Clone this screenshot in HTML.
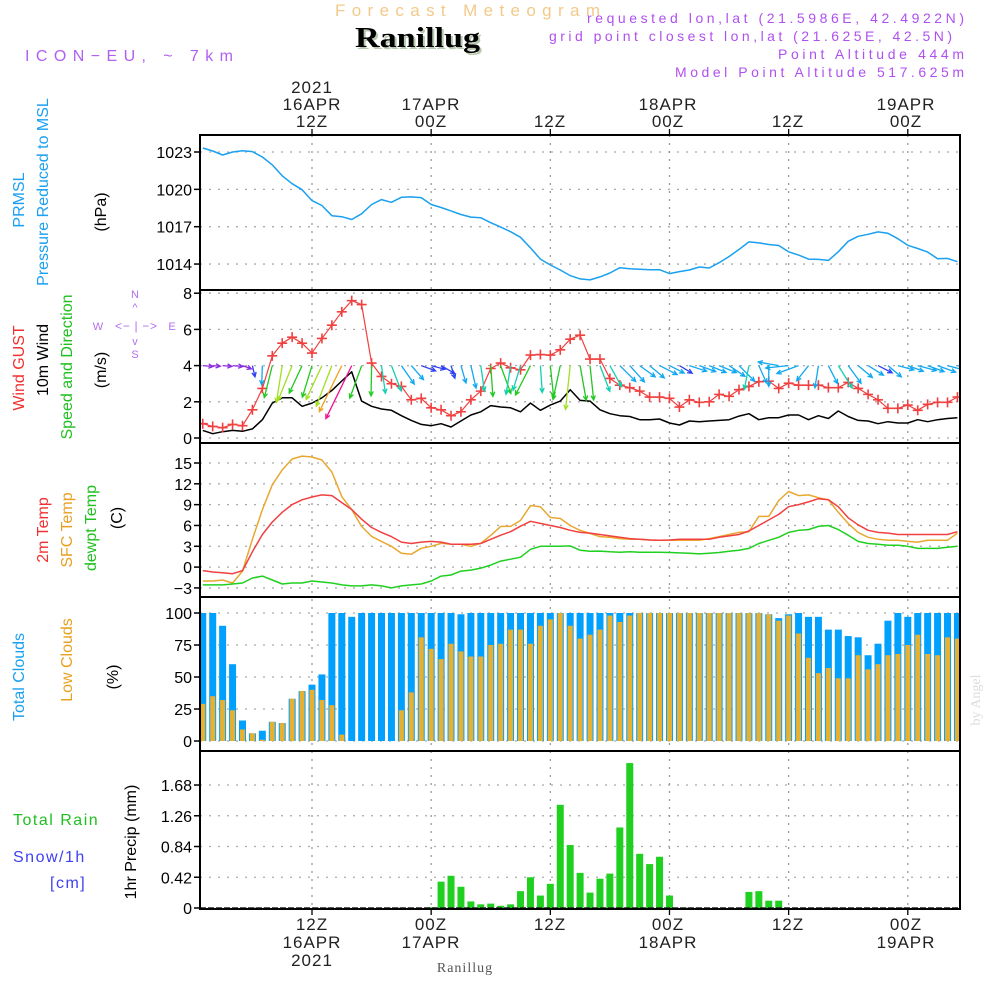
<!DOCTYPE html>
<html><head><meta charset="utf-8"><title>Forecast Meteogram Ranillug</title>
<style>
html,body{margin:0;padding:0;background:#fff;}
svg{display:block;font-family:"Liberation Sans",sans-serif;}
</style></head>
<body>
<svg id="chart" width="1000" height="1000" viewBox="0 0 1000 1000" xmlns="http://www.w3.org/2000/svg">
<rect x="0" y="0" width="1000" height="1000" fill="#fff"/>
<text x="335" y="16" font-size="17" fill="#f3c98a" textLength="265" lengthAdjust="spacing">Forecast Meteogram</text>
<text x="357" y="49" font-size="28" font-weight="bold" font-family="Liberation Serif,serif" fill="#b8c8b0" textLength="125" lengthAdjust="spacingAndGlyphs">Ranillug</text>
<text x="355" y="47" font-size="28" font-weight="bold" font-family="Liberation Serif,serif" fill="#000" textLength="125" lengthAdjust="spacingAndGlyphs">Ranillug</text>
<text x="25" y="61" font-size="16" fill="#b060f0" textLength="208" lengthAdjust="spacing">ICON−EU, ~ 7km</text>
<g font-size="14" fill="#b050f0">
<text x="587" y="23" textLength="377" lengthAdjust="spacing">requested lon,lat (21.5986E, 42.4922N)</text>
<text x="549" y="41" textLength="403" lengthAdjust="spacing">grid point closest lon,lat (21.625E, 42.5N)</text>
<text x="778" y="59" textLength="186" lengthAdjust="spacing">Point Altitude 444m</text>
<text x="675" y="77" textLength="289" lengthAdjust="spacing">Model Point Altitude 517.625m</text>
</g>
<g font-size="17" fill="#222" text-anchor="middle" letter-spacing="1">
<text x="312" y="93">2021</text>
<text x="312" y="110">16APR</text>
<text x="312" y="127">12Z</text>
<text x="431" y="110">17APR</text>
<text x="431" y="127">00Z</text>
<text x="550" y="127">12Z</text>
<text x="668" y="110">18APR</text>
<text x="668" y="127">00Z</text>
<text x="788" y="127">12Z</text>
<text x="906" y="110">19APR</text>
<text x="906" y="127">00Z</text>
</g>
<g font-size="17" fill="#222" text-anchor="middle" letter-spacing="1">
<text x="312" y="930">12Z</text>
<text x="312" y="948">16APR</text>
<text x="312" y="966">2021</text>
<text x="431" y="930">00Z</text>
<text x="431" y="948">17APR</text>
<text x="550" y="930">12Z</text>
<text x="668" y="930">00Z</text>
<text x="668" y="948">18APR</text>
<text x="788" y="930">12Z</text>
<text x="906" y="930">00Z</text>
<text x="906" y="948">19APR</text>
</g>
<text x="465" y="972" font-size="14" font-family="Liberation Serif,serif" fill="#555" text-anchor="middle" letter-spacing="1">Ranillug</text>
<text transform="translate(980,700) rotate(-90)" font-size="14" font-family="Liberation Serif,serif" fill="#ddd" text-anchor="middle">by Angel</text>

<g font-size="16">
<text transform="translate(24,200) rotate(-90)" fill="#1aa0f0" text-anchor="middle">PRMSL</text>
<text transform="translate(48,192) rotate(-90)" fill="#1aa0f0" text-anchor="middle">Pressure Reduced to MSL</text>
<text transform="translate(106,212) rotate(-90)" fill="#000" text-anchor="middle">(hPa)</text>
<text transform="translate(24,368) rotate(-90)" fill="#f03030" text-anchor="middle">Wind GUST</text>
<text transform="translate(48,360) rotate(-90)" fill="#000" text-anchor="middle">10m Wind</text>
<text transform="translate(72,367) rotate(-90)" fill="#20c020" text-anchor="middle">Speed and Direction</text>
<text transform="translate(106,370) rotate(-90)" fill="#000" text-anchor="middle">(m/s)</text>
<text transform="translate(48,530) rotate(-90)" fill="#f03030" text-anchor="middle">2m Temp</text>
<text transform="translate(72,530) rotate(-90)" fill="#e8a020" text-anchor="middle">SFC Temp</text>
<text transform="translate(96,528) rotate(-90)" fill="#20c020" text-anchor="middle">dewpt Temp</text>
<text transform="translate(122,518) rotate(-90)" fill="#000" text-anchor="middle">(C)</text>
<text transform="translate(24,677) rotate(-90)" fill="#1aa0f0" text-anchor="middle">Total Clouds</text>
<text transform="translate(72,660) rotate(-90)" fill="#e8a020" text-anchor="middle">Low Clouds</text>
<text transform="translate(118,677) rotate(-90)" fill="#000" text-anchor="middle">(%)</text>
<text x="13" y="825" fill="#20c020" letter-spacing="1.5">Total  Rain</text>
<text x="13" y="862" fill="#4040f0" letter-spacing="1.5">Snow/1h</text>
<text x="50" y="888" fill="#4040f0" letter-spacing="1.5">[cm]</text>
<text transform="translate(136,842) rotate(-90)" fill="#000" text-anchor="middle">1hr Precip (mm)</text>
</g>
<g font-size="11" fill="#b070f0">
<text x="135" y="298" text-anchor="middle">N</text>
<text x="135" y="358" text-anchor="middle">S</text>
<text x="98" y="330" text-anchor="middle">W</text>
<text x="172" y="330" text-anchor="middle">E</text>
<text x="115" y="330" textLength="42" lengthAdjust="spacing" font-size="12">&lt;− | −&gt;</text>
<text x="135" y="311" text-anchor="middle">^</text>
<text x="135" y="345" text-anchor="middle">v</text>
</g>
<g id="plot"></g>
</svg>
<script>
// ---- data (hour index 1..77 from 16APR 00Z) ----
const hours = Array.from({length:77},(_,i)=>i+1);
const pressure = [1023.32,1023.08,1022.76,1023.0,1023.1,1023.03,1022.6,1021.96,1021.09,1020.45,1019.97,1019.1,1018.7,1017.88,1017.8,1017.58,1018.04,1018.78,1019.18,1018.96,1019.36,1019.39,1019.34,1018.78,1018.54,1018.27,1017.98,1017.77,1017.72,1017.32,1016.97,1016.6,1016.15,1015.3,1014.4,1013.92,1013.52,1013.07,1012.81,1012.73,1012.97,1013.28,1013.71,1013.63,1013.58,1013.55,1013.55,1013.23,1013.39,1013.52,1013.76,1013.68,1014.11,1014.61,1015.17,1015.78,1015.7,1015.57,1015.49,1014.98,1014.72,1014.4,1014.37,1014.29,1014.98,1015.83,1016.23,1016.39,1016.58,1016.47,1016.04,1015.51,1015.25,1014.96,1014.43,1014.45,1014.19];
const gust = [0.79,0.64,0.57,0.75,0.68,1.56,2.74,4.54,5.24,5.57,5.24,4.69,5.5,6.23,6.97,7.59,7.37,4.14,3.4,3.0,2.85,2.11,2.19,1.67,1.56,1.23,1.45,2.11,2.59,3.84,4.14,3.88,3.77,4.58,4.61,4.58,4.87,5.46,5.68,4.36,4.36,3.29,2.92,2.78,2.59,2.26,2.26,2.19,1.71,2.11,1.97,2.0,2.41,2.3,2.67,2.85,3.11,3.14,2.74,3.03,2.92,2.92,2.92,2.78,2.78,3.07,2.74,2.41,2.11,1.64,1.64,1.82,1.53,1.86,1.97,1.97,2.26];
const wind = [0.42,0.24,0.35,0.42,0.37,0.5,1.01,1.93,2.22,2.22,1.75,1.93,2.22,2.63,3.15,3.66,2.04,1.75,1.6,1.53,1.23,0.97,0.75,0.68,0.79,0.61,0.94,1.27,1.45,1.79,1.71,1.67,1.45,1.93,1.53,1.82,2.04,2.67,2.08,2.04,1.56,1.34,1.23,1.19,1.01,1.01,1.05,0.83,0.72,0.94,0.9,0.94,0.97,1.01,1.21,1.34,1.01,1.12,1.12,1.27,1.27,1.01,1.23,1.08,1.49,1.19,0.97,0.94,0.79,0.9,0.83,0.83,1.01,0.9,1.01,1.08,1.12];
const windDir = [5,5,5,5,20,77,92,104,99,112,115,107,115,111,116,116,110,91,82,69,55,49,20,15,30,73,74,77,82,86,70,99,107,117,86,84,102,96,80,84,69,61,45,48,36,40,27,27,31,18,20,22,22,34,45,101,66,90,190,174,160,128,99,63,58,54,40,32,27,40,15,20,15,20,20,15,10];
const temp2m = [-0.5,-0.7,-0.8,-0.95,-0.5,2.2,4.7,6.5,7.9,9.0,9.7,10.1,10.4,10.3,9.3,8.3,6.9,5.7,5.0,4.4,3.6,3.4,3.6,3.7,3.6,3.3,3.3,3.3,3.4,4.0,4.6,5.1,5.9,6.6,6.3,6.0,5.7,5.3,5.0,4.9,4.7,4.5,4.3,4.1,4.0,3.9,3.86,3.9,4.0,4.0,4.0,4.0,4.3,4.5,4.7,5.2,6.0,6.8,7.6,8.7,9.0,9.4,9.86,9.7,8.7,7.1,6.1,5.3,5.0,4.9,4.7,4.7,4.7,4.7,4.7,4.7,5.1];
const tempSfc = [-2.0,-2.0,-1.86,-2.29,-0.57,4.0,8.29,11.86,14.0,15.57,16.0,15.86,15.43,13.71,10.14,8.29,5.86,4.43,3.71,3.0,2.0,1.86,2.71,3.0,3.43,3.29,3.29,3.0,3.43,4.57,5.86,5.86,6.71,8.86,8.71,7.14,7.0,6.0,5.29,4.86,4.4,4.3,4.1,4.0,4.0,3.9,3.86,3.86,3.86,3.86,3.86,4.1,4.4,4.7,5.0,5.1,7.3,7.3,9.6,10.9,10.3,10.4,10.0,9.7,7.9,6.3,5.0,4.3,4.0,3.86,3.86,3.7,3.6,3.86,3.86,3.86,4.9];
const dewpt = [-2.57,-2.57,-2.57,-2.43,-2.29,-1.57,-1.29,-1.86,-2.43,-2.29,-2.29,-2.0,-2.14,-2.29,-2.57,-2.71,-2.71,-2.57,-2.71,-3.0,-2.71,-2.57,-2.43,-2.0,-1.29,-1.14,-0.57,-0.43,-0.14,0.29,0.86,1.14,1.43,2.57,3.0,3.0,3.0,3.05,2.43,2.29,2.3,2.2,2.14,2.2,2.14,2.14,2.14,2.1,2.05,2.0,1.9,2.0,2.1,2.29,2.43,2.7,3.4,3.86,4.3,5.0,5.3,5.4,5.86,6.0,5.4,4.6,3.7,3.4,3.3,3.14,3.14,3.0,2.7,2.7,2.7,2.86,3.0];
const totalClouds = [100,100,90,60,16,6,8,15,14,33,39,44,52,100,100,97,100,100,100,100,100,100,100,100,100,100,99,100,100,100,100,100,100,100,100,100,100,100,100,100,100,100,100,100,100,100,100,100,100,100,100,100,100,100,100,100,100,99,96,99,100,97,97,87,87,82,81,67,76,94,100,97,100,100,100,100,100];
const lowClouds = [29,35,32,24,9,6,1,15,14,33,39,40,32,28,5,0,0,0,0,0,24,38,81,72,64,76,70,66,66,75,76,87,87,76,90,95,100,90,80,83,87,98,93,98,100,100,100,100,100,100,100,100,100,100,100,100,100,99,94,98,84,65,53,57,49,49,67,56,60,67,68,75,83,68,67,81,80];
const rain = [0,0,0,0,0,0,0,0,0,0,0,0,0,0,0,0,0,0,0,0,0,0,0,0.01,0.36,0.44,0.29,0.09,0.05,0.06,0.03,0.05,0.23,0.42,0.17,0.33,1.41,0.86,0.48,0.21,0.40,0.47,1.10,1.98,0.74,0.60,0.70,0.17,0,0,0,0,0,0,0,0.22,0.23,0.10,0.10,0,0,0,0,0,0,0,0,0,0,0,0,0,0,0,0,0,0];
const pressureTicks = [1014,1017,1020,1023];
const windTicks = [0,2,4,6,8];
const tempTicks = [-3,0,3,6,9,12,15];
const cloudTicks = [0,25,50,75,100];
const rainTicks = [0,0.42,0.84,1.26,1.68];
const timeGridHours = [12,24,36,48,60,72];

// ---- axis functions ----
const X0=200, X1=960;
const xH = h => 312 + (h-12)*9.93;
const yP = p => 152 + (1023-p)*12.45;
const yW = v => 438 - v*18.1;
const yT = t => 463 + (15-t)*6.94;
const yC = c => 741 - c*1.28;
const yR = r => 908 - r*73.2;
const panels = [{t:135,b:290,name:'pressure'},{t:290,b:443,name:'wind'},{t:443,b:597,name:'temperature'},{t:597,b:751,name:'clouds'},{t:751,b:909,name:'precip'}];

const NS='http://www.w3.org/2000/svg';
const plot=document.getElementById('plot');
function mk(tag,attrs,parent){const e=document.createElementNS(NS,tag);for(const k in attrs)e.setAttribute(k,attrs[k]);(parent||plot).appendChild(e);return e;}
const clip=mk('clipPath',{id:'pc'});mk('rect',{x:X0,y:135,width:X1-X0,height:774},clip);
const g=mk('g',{'clip-path':'url(#pc)'});



function hgrid(ticks,fy,fmt,name){
  ticks.forEach(v=>{
    const y=fy(v);
    const l=mk('line',{x1:X0,x2:X1,y1:y,y2:y,stroke:'#aaa','stroke-width':1.3,'stroke-dasharray':'2 7'},g);
    
    
    const tk=mk('line',{x1:X0-6,x2:X0,y1:y,y2:y,stroke:'#000','stroke-width':1.5});
    
    
    const t=mk('text',{x:192,y:y+6,'font-size':16,'text-anchor':'end',fill:'#000'});
    t.textContent=fmt(v);
    
    
  });
}
hgrid(pressureTicks,yP,v=>String(v),'pressure');
hgrid(windTicks,yW,v=>String(v),'wind');
hgrid(tempTicks,yT,v=>v<0?'−'+(-v):String(v),'temp');
hgrid(cloudTicks,yC,v=>String(v),'cloud');
hgrid(rainTicks,yR,v=>v===0?'0':v.toFixed(2),'precip');
timeGridHours.forEach(h=>{
  const x=xH(h);
  const l=mk('line',{x1:x,x2:x,y1:135,y2:909,stroke:'#999','stroke-width':1.3,'stroke-dasharray':'2 6'},g);
  
  
  [[129,135],[909,915]].forEach(([a,b])=>{
    const t=mk('line',{x1:x,x2:x,y1:a,y2:b,stroke:'#000','stroke-width':1.3});
    
    
  });
});

hours.forEach((h,i)=>{
  const x=xH(h);
  const b=mk('rect',{x:x-3.5,y:yC(totalClouds[i]),width:7,height:yC(0)-yC(totalClouds[i]),fill:'#00a0ff'},g);
  
  
  const o=mk('rect',{x:x-2.5,y:yC(lowClouds[i]),width:5,height:yC(0)-yC(lowClouds[i]),fill:'#e8b030'},g);
  
  
});
hours.forEach((h,i)=>{
  if(rain[i]<=0)return;
  const x=xH(h);
  const b=mk('rect',{x:x-3.5,y:yR(rain[i]),width:7,height:yR(0)-yR(rain[i]),fill:'#20d020'},g);
  
  
});
const base=mk('line',{x1:X0,x2:X1,y1:yR(0),y2:yR(0),stroke:'#222','stroke-width':1.5,'stroke-dasharray':'6 2'},g);



function line(arr,fy,color,name,w){
  const d=arr.map((v,i)=>(i?'L':'M')+xH(hours[i]).toFixed(1)+' '+fy(v).toFixed(1)).join('');
  const p=mk('path',{d:d,fill:'none',stroke:color,'stroke-width':w||1.5,'stroke-linejoin':'round'},g);
  
  
}
line(pressure,yP,'#1aa0f0','pressure-line');
line(tempSfc,yT,'#e8a830','sfc-temp-line');
line(temp2m,yT,'#f04040','t2m-line');
line(dewpt,yT,'#20d020','dewpt-line');
line(wind,yW,'#000','wind-speed-line');
line(gust,yW,'#f04040','gust-line',1.2);
gust.forEach((v,i)=>{
  const x=xH(hours[i]),y=yW(v);
  const c=mk('path',{d:`M${x-5} ${y}H${x+5}M${x} ${y-5}V${y+5}`,stroke:'#f04040','stroke-width':1.6},g);
  
  
});
function spdColor(s){
  if(s<0.5)return '#8a2be2';
  if(s<0.8)return '#3040f0';
  if(s<1.3)return '#10a8f0';
  if(s<1.7)return '#10d0b0';
  if(s<2.1)return '#20c820';
  if(s<2.8)return '#a0e020';
  if(s<3.2)return '#f0a020';
  return '#f01090';
}
hours.forEach((h,i)=>{
  const s=wind[i],a=windDir[i]*Math.PI/180,L=4+15*s;
  const x0=xH(h),y0=yW(4);
  const x1=x0+L*Math.cos(a),y1=y0+L*Math.sin(a);
  const hl=5,ha=0.45;
  const p1x=x1-hl*Math.cos(a-ha),p1y=y1-hl*Math.sin(a-ha);
  const p2x=x1-hl*Math.cos(a+ha),p2y=y1-hl*Math.sin(a+ha);
  const ar=mk('path',{d:`M${x0} ${y0}L${x1} ${y1}M${p1x} ${p1y}L${x1} ${y1}L${p2x} ${p2y}`,fill:'none',stroke:spdColor(s),'stroke-width':1.3},g);
  
  
});
panels.forEach(p=>{
  const r=mk('rect',{x:X0,y:p.t,width:X1-X0,height:p.b-p.t,fill:'none',stroke:'#000','stroke-width':2});
  
  
});
</script>
</body></html>
